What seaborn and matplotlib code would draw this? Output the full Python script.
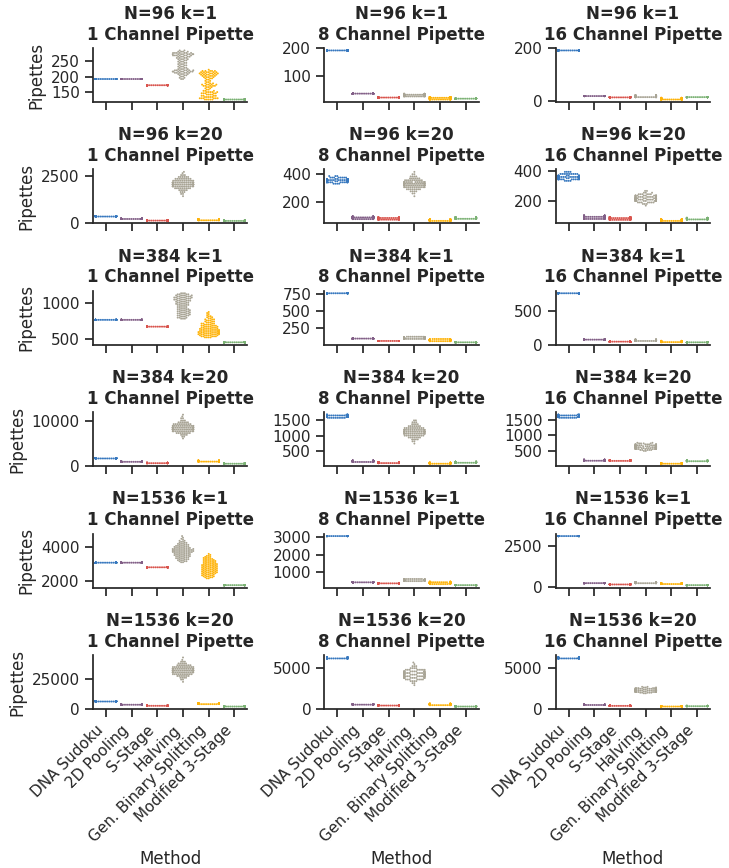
import numpy as np
import pandas as pd
import matplotlib
matplotlib.use("Agg")
import matplotlib.pyplot as plt
import seaborn as sns
import warnings
warnings.filterwarnings("ignore")

methods = ["DNA Sudoku", "2D Pooling", "S-Stage", "Halving",
           "Gen. Binary Splitting", "Modified 3-Stage"]
n_values = [96, 96, 384, 384, 1536, 1536]
k_values = [1, 20, 1, 20, 1, 20]
channels = [1, 8, 16]

# one entry per panel (row by row, 1/8/16 channels), each a list of (pipettes, trials)
dna_sudoku = [
    [(192, 100)], [(192, 100)], [(192, 100)],
    [(350, 25), (362, 50), (375, 25)],
    [(330, 4), (340, 14), (348, 25), (356, 28), (364, 18), (374, 8), (385, 3)],
    [(332, 4), (342, 12), (350, 22), (358, 28), (366, 20), (378, 10), (392, 4)],
    [(768, 100)], [(768, 100)], [(768, 100)],
    [(1650, 25), (1700, 50), (1750, 25)],
    [(1560, 10), (1585, 25), (1610, 35), (1635, 20), (1660, 10)],
    [(1560, 10), (1585, 25), (1610, 35), (1635, 20), (1660, 10)],
    [(3072, 100)], [(3072, 100)], [(3072, 100)],
    [(6100, 25), (6230, 50), (6360, 25)],
    [(6200, 30), (6260, 40), (6320, 30)],
    [(6200, 30), (6260, 40), (6320, 30)],
]

pooling_2d = [
    [(192, 100)], [(38, 100)], [(20, 100)],
    [(220, 30), (230, 40), (240, 30)],
    [(76, 15), (82, 25), (88, 35), (94, 25)],
    [(78, 20), (85, 30), (92, 30), (100, 20)],
    [(768, 100)], [(100, 100)], [(75, 100)],
    [(900, 30), (940, 40), (980, 30)],
    [(170, 25), (190, 40), (210, 35)],
    [(185, 30), (200, 40), (215, 30)],
    [(3072, 100)], [(430, 100)], [(260, 100)],
    [(3400, 30), (3500, 40), (3600, 30)],
    [(490, 30), (520, 40), (550, 30)],
    [(460, 30), (480, 40), (500, 30)],
]

s_stage = [
    [(172, 100)], [(24, 100)], [(15, 100)],
    [(135, 30), (142, 40), (150, 30)],
    [(72, 20), (78, 35), (84, 30), (88, 15)],
    [(72, 20), (78, 30), (84, 30), (90, 20)],
    [(672, 100)], [(65, 100)], [(45, 100)],
    [(600, 30), (640, 40), (680, 30)],
    [(135, 30), (150, 40), (165, 30)],
    [(180, 30), (192, 40), (204, 30)],
    [(2800, 100)], [(370, 100)], [(180, 100)],
    [(2500, 30), (2600, 40), (2700, 30)],
    [(380, 30), (410, 40), (440, 30)],
    [(350, 30), (370, 40), (390, 30)],
]

halving = [
    [(192, 2), (196, 2), (200, 2), (204, 3), (208, 4), (212, 6), (216, 8), (220, 7),
     (224, 4), (228, 3), (232, 3), (236, 3), (240, 3), (244, 3), (248, 3), (252, 3),
     (256, 4), (260, 4), (264, 5), (268, 7), (272, 8), (276, 7), (280, 4), (284, 2)],
    [(28, 15), (31, 25), (34, 35), (37, 25)],
    [(16, 30), (19, 40), (22, 30)],
    [(1430, 1), (1550, 2), (1650, 3), (1750, 5), (1850, 9), (1950, 14), (2050, 18),
     (2150, 16), (2250, 12), (2350, 9), (2450, 6), (2550, 3), (2650, 1), (2720, 1)],
    [(240, 1), (260, 2), (275, 4), (290, 8), (305, 13), (318, 17), (330, 18),
     (342, 14), (355, 10), (368, 6), (382, 4), (398, 2), (415, 1)],
    [(167, 1), (178, 3), (188, 7), (198, 13), (207, 18), (216, 20), (225, 16),
     (234, 11), (243, 6), (253, 3), (265, 2)],
    [(785, 3), (800, 3), (815, 3), (830, 4), (845, 4), (860, 4), (875, 4), (890, 4),
     (905, 4), (920, 4), (935, 3), (950, 3), (965, 3), (980, 4), (995, 4), (1010, 4),
     (1025, 4), (1040, 5), (1055, 5), (1070, 5), (1085, 6), (1100, 5), (1115, 5),
     (1130, 4), (1145, 3)],
    [(95, 15), (103, 25), (111, 30), (119, 20), (127, 10)],
    [(55, 25), (62, 35), (69, 25), (76, 15)],
    [(6100, 1), (6500, 2), (6900, 4), (7300, 8), (7700, 13), (8100, 17), (8500, 18),
     (8900, 14), (9300, 10), (9700, 6), (10100, 3), (10600, 2), (11000, 1), (11400, 1)],
    [(750, 1), (820, 2), (880, 4), (940, 7), (1000, 11), (1060, 15), (1120, 18),
     (1180, 15), (1240, 11), (1300, 7), (1360, 4), (1420, 3), (1480, 2)],
    [(500, 2), (530, 5), (560, 10), (590, 16), (620, 20), (650, 18), (680, 14),
     (710, 9), (740, 4), (760, 2)],
    [(3100, 2), (3160, 3), (3220, 3), (3280, 4), (3340, 4), (3400, 4), (3460, 5),
     (3520, 5), (3580, 5), (3640, 5), (3700, 7), (3760, 7), (3820, 7), (3880, 7),
     (3940, 5), (4000, 5), (4060, 4), (4120, 4), (4180, 3), (4240, 3), (4300, 2),
     (4360, 2), (4420, 1), (4480, 1), (4540, 1), (4640, 1)],
    [(500, 10), (530, 20), (560, 35), (590, 25), (620, 10)],
    [(255, 20), (275, 30), (295, 30), (315, 20)],
    [(22600, 1), (24500, 2), (26000, 4), (27500, 7), (29000, 11), (30500, 14),
     (32000, 16), (33500, 15), (35000, 12), (36500, 8), (38000, 5), (39500, 3),
     (41000, 1), (43000, 1)],
    [(2900, 1), (3150, 2), (3400, 4), (3600, 7), (3800, 11), (4000, 15), (4200, 17),
     (4400, 15), (4600, 11), (4800, 8), (5000, 4), (5250, 3), (5500, 1), (5700, 1)],
    [(1900, 2), (1980, 5), (2060, 9), (2140, 14), (2220, 18), (2300, 19), (2380, 14),
     (2460, 9), (2540, 5), (2620, 3), (2700, 2)],
]

binary_splitting = [
    [(126, 5), (130, 6), (134, 5), (138, 4), (142, 4), (146, 5), (150, 5), (154, 3),
     (158, 2), (162, 2), (166, 3), (170, 5), (174, 5), (178, 3), (182, 2), (186, 2),
     (190, 2), (194, 3), (198, 4), (202, 5), (206, 6), (210, 7), (214, 6), (218, 5),
     (222, 1)],
    [(17, 20), (20, 30), (23, 30), (26, 20)],
    [(7, 30), (10, 40), (13, 30)],
    [(150, 15), (165, 20), (180, 30), (195, 20), (210, 15)],
    [(63, 30), (68, 40), (73, 30)],
    [(65, 30), (70, 40), (75, 30)],
    [(520, 4), (535, 5), (550, 6), (565, 7), (580, 7), (595, 7), (610, 7), (625, 6),
     (640, 6), (655, 5), (670, 5), (685, 5), (700, 4), (715, 4), (730, 3), (745, 3),
     (760, 3), (775, 3), (790, 2), (805, 2), (820, 2), (835, 1), (850, 1), (865, 1),
     (880, 1)],
    [(62, 15), (70, 25), (78, 30), (86, 20), (94, 10)],
    [(38, 25), (44, 35), (50, 25), (56, 15)],
    [(950, 15), (1010, 25), (1070, 30), (1130, 20), (1190, 10)],
    [(115, 30), (130, 40), (145, 30)],
    [(90, 30), (100, 40), (110, 30)],
    [(2150, 2), (2210, 3), (2270, 4), (2330, 4), (2390, 4), (2450, 5), (2510, 5),
     (2570, 5), (2630, 5), (2690, 5), (2750, 5), (2810, 5), (2870, 5), (2930, 5),
     (2990, 5), (3050, 4), (3110, 4), (3170, 4), (3230, 4), (3290, 3), (3350, 3),
     (3410, 2), (3470, 2), (3530, 1), (3590, 1)],
    [(330, 10), (365, 25), (400, 35), (435, 20), (465, 10)],
    [(205, 20), (225, 30), (245, 30), (265, 20)],
    [(3900, 10), (4100, 20), (4300, 30), (4500, 25), (4700, 15)],
    [(430, 15), (480, 25), (530, 30), (580, 20), (620, 10)],
    [(270, 25), (300, 40), (330, 35)],
]

modified_3_stage = [
    [(126, 100)], [(20, 100)], [(16, 100)],
    [(118, 30), (128, 40), (138, 30)],
    [(78, 30), (83, 40), (88, 30)],
    [(75, 30), (80, 40), (85, 30)],
    [(450, 100)], [(45, 100)], [(35, 100)],
    [(480, 30), (520, 40), (560, 30)],
    [(145, 30), (160, 40), (175, 30)],
    [(170, 30), (180, 40), (190, 30)],
    [(1750, 100)], [(270, 100)], [(140, 100)],
    [(1900, 30), (2100, 40), (2300, 30)],
    [(260, 30), (290, 40), (320, 30)],
    [(310, 30), (330, 40), (350, 30)],
]

colors = sns.xkcd_palette(["windows blue", "dusty purple", "pale red",
                           "greyish", "amber", "faded green"])

# long table, one row per trial
series = [dna_sudoku, pooling_2d, s_stage, halving, binary_splitting, modified_3_stage]
rows = []
for m, data in zip(methods, series):
    for p, entry in enumerate(data):
        for v, c in entry:
            for _ in range(c):
                rows.append((p, m, v))
df = pd.DataFrame(rows, columns=["panel", "Method", "Pipettes"])

sns.set_theme(style="ticks", context="notebook")
plt.rcParams["font.family"] = ["DejaVu Sans"]
fig, axes = plt.subplots(6, 3, figsize=(7.29, 8.68), dpi=100)
fig.subplots_adjust(left=0.1276, right=0.974, top=0.9447, bottom=0.1832,
                    wspace=0.5, hspace=1.25)

for i in range(6):
    for j in range(3):
        ax = axes[i, j]
        sub = df[df["panel"] == i * 3 + j]
        sns.swarmplot(data=sub, x="Method", y="Pipettes", hue="Method",
                      order=methods, hue_order=methods, palette=colors,
                      size=1.4, linewidth=0, legend=False, ax=ax)
        # swarm positions are fixed now, stop recomputing them on every redraw
        for c in ax.collections:
            if "draw" in c.__dict__:
                del c.__dict__["draw"]
        ax.set_title(f"N={n_values[i]} k={k_values[i]}\n{channels[j]} Channel Pipette",
                     fontweight="bold")
        if j != 0:
            ax.set_ylabel("")
        if i != 5:
            ax.set_xlabel("")
            ax.set_xticklabels([])
        else:
            plt.setp(ax.get_xticklabels(), rotation=45, ha="right")
        sns.despine(ax=ax)

fig.savefig("out.png", dpi=100)
